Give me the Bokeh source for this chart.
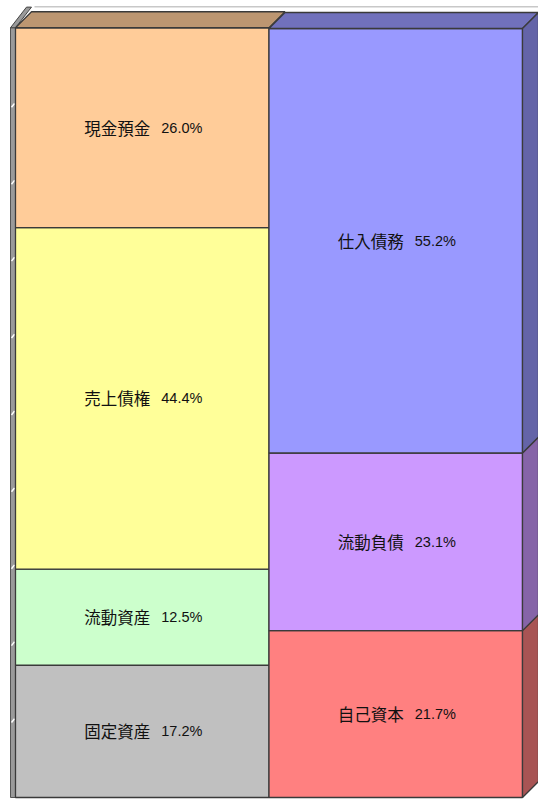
from bokeh.plotting import figure
from bokeh.models import Range1d, ColumnDataSource
from bokeh.core.properties import value
from bokeh.embed import file_html
from bokeh.resources import INLINE

# ---- data ----
left_labels = ["固定資産", "流動資産", "売上債権", "現金預金"]
left_values = [17.2, 12.5, 44.4, 26.0]
left_colors = ["#C0C0C0", "#CCFFCC", "#FFFF99", "#FFCC99"]

right_labels = ["自己資本", "流動負債", "仕入債務"]
right_values = [21.7, 23.1, 55.2]
right_colors = ["#FF8080", "#CC99FF", "#9999FF"]

wall_ticks = [10, 20, 30, 40, 50, 60, 70, 80, 90]

# ---- geometry / styles ----
W, H = 538, 800
PX_X = 253.5      # pixels per column unit
PX_Y = 7.69       # pixels per percent
x_start = -15 / PX_X
y_start = -3 / PX_Y
DX = 16 / PX_X    # 3D depth (x)
DY = 16 / PX_Y    # 3D depth (y)
EDGE = "#3a3a3a"
NUM_FONT = value("'Liberation Sans', 'Noto Sans CJK JP'")
CJK_FONT = value("'Noto Sans CJK JP'")


def shade(hex_color, f):
    h = hex_color.lstrip("#")
    r, g, b = (int(h[i:i + 2], 16) for i in (0, 2, 4))
    return "#%02x%02x%02x" % (int(r * f), int(g * f), int(b * f))


p = figure(width=W, height=H,
           x_range=Range1d(x_start, x_start + W / PX_X),
           y_range=Range1d(y_start, y_start + H / PX_Y),
           output_backend="svg", toolbar_location=None,
           min_border=0, min_border_left=0, min_border_right=0,
           min_border_top=0, min_border_bottom=0)
p.xaxis.visible = False
p.yaxis.visible = False
p.grid.visible = False
p.outline_line_color = None
p.background_fill_color = "white"
p.border_fill_color = "white"


def stack(vals):
    bottoms, tops = [], []
    acc = 0.0
    for v in vals:
        bottoms.append(acc)
        acc += v
        tops.append(acc)
    return bottoms, tops


lb, lt = stack(left_values)
rb, rt = stack(right_values)

# back wall top line
top_max = max(lt[-1], rt[-1])
p.line([DX + 3 / PX_X, 2 + DX], [top_max + DY + 0.65] * 2, line_color="#c8c8c8", line_width=1.5)

# left wall strip with ticks
p.quad(left=[-5 / PX_X], right=[0], bottom=[0], top=[lt[-1]],
       fill_color="#9a9a9a", line_color="#555555", line_width=1)
p.patch([-5 / PX_X, 0, DX, DX - 5 / PX_X], [lt[-1], lt[-1], lt[-1] + DY + 0.6, lt[-1] + DY + 0.6],
        fill_color="#9a9a9a", line_color="#444444", line_width=1)
p.segment(x0=[-4 / PX_X] * len(wall_ticks), y0=[t - 0.25 for t in wall_ticks],
          x1=[-1 / PX_X] * len(wall_ticks), y1=[t + 0.25 for t in wall_ticks],
          line_color="white", line_width=1.5)

# front faces
left_src = ColumnDataSource(dict(
    left=[0] * len(left_values), right=[1] * len(left_values),
    bottom=lb, top=lt, color=left_colors,
    x=[0.5] * len(left_values), y=[(a + b) / 2 for a, b in zip(lb, lt)],
    name=left_labels, num=[f"{v:.1f}%" for v in left_values]))
right_src = ColumnDataSource(dict(
    left=[1] * len(right_values), right=[2] * len(right_values),
    bottom=rb, top=rt, color=right_colors,
    x=[1.5] * len(right_values), y=[(a + b) / 2 for a, b in zip(rb, rt)],
    name=right_labels, num=[f"{v:.1f}%" for v in right_values]))

for src in (left_src, right_src):
    p.quad(left="left", right="right", bottom="bottom", top="top", source=src,
           fill_color="color", line_color=EDGE, line_width=1.3)

# top faces
for x0, top, col in ((0, lt[-1], left_colors[-1]), (1, rt[-1], right_colors[-1])):
    p.patch([x0, x0 + 1, x0 + 1 + DX, x0 + DX], [top, top, top + DY, top + DY],
            fill_color=shade(col, 0.74), line_color=EDGE, line_width=1.3)

# right side faces of right column
xs, ys, cols = [], [], []
for b, t, c in zip(rb, rt, right_colors):
    xs.append([2, 2 + DX, 2 + DX, 2])
    ys.append([b, b + DY, t + DY, t])
    cols.append(shade(c, 0.66))
p.patches(xs, ys, fill_color=cols, line_color=EDGE, line_width=1.3)

# labels: name (CJK) + percentage
for src in (left_src, right_src):
    p.text(x="x", y="y", text="name", source=src, text_align="right",
           text_baseline="middle", text_font=CJK_FONT, text_font_size="16.5px",
           text_color="#111111", x_offset=8)
    p.text(x="x", y="y", text="num", source=src, text_align="left",
           text_baseline="middle", text_font=NUM_FONT, text_font_size="14.5px",
           text_color="#111111", x_offset=19)

open("out.html", "w").write(file_html(p, INLINE))
